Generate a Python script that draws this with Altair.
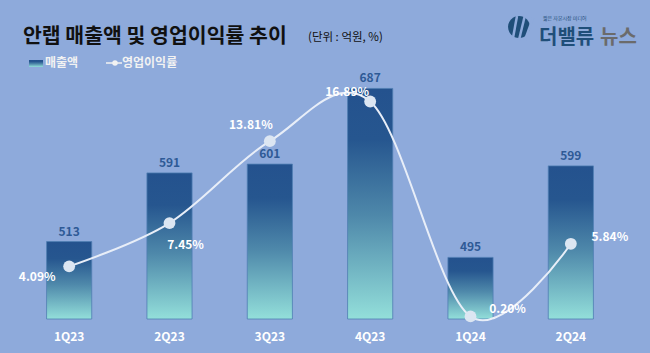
import altair as alt
import pandas as pd

quarters = ["1Q23", "2Q23", "3Q23", "4Q23", "1Q24", "2Q24"]
sales = [513, 591, 601, 687, 495, 599]
margin = [4.09, 7.45, 13.81, 16.89, 0.20, 5.84]

df = pd.DataFrame({"q": quarters, "sales": sales, "margin": margin})
df["sales_label"] = df["sales"].astype(str)
df["margin_label"] = df["margin"].map(lambda v: f"{v:.2f}%")

FONT = "Noto Sans CJK KR"
W, H = 602, 264
LEFT, TOP = 19, 55
BG = "#8EAADB"

bar_grad = alt.Gradient(
    gradient="linear", x1=0, y1=0, x2=0, y2=1,
    stops=[
        alt.GradientStop(offset=0, color="#24528E"),
        alt.GradientStop(offset=0.22, color="#26568F"),
        alt.GradientStop(offset=0.55, color="#4E88AA"),
        alt.GradientStop(offset=1, color="#93DFDA"),
    ],
)

x = alt.X(
    "q:N", sort=quarters,
    scale=alt.Scale(paddingInner=0.55, paddingOuter=0.275),
    axis=alt.Axis(title=None, domain=False, ticks=False, labelAngle=0, grid=False,
                  labelColor="#FFFFFF", labelFont=FONT, labelFontSize=12,
                  labelFontWeight="bold", labelPadding=12),
)
ybar = alt.Y("sales:Q", scale=alt.Scale(domain=[425, 725], zero=False, nice=False), axis=None)
yline = alt.Y("margin:Q", scale=alt.Scale(domain=[0, 20.5], zero=True, nice=False), axis=None)

base = alt.Chart(df)

bars = base.mark_bar(color=bar_grad, stroke="#4F7DB3", strokeWidth=0.8).encode(
    x=x, y=ybar, y2=alt.datum(425)
)
bar_text = base.mark_text(dy=-10, font=FONT, fontSize=12, fontWeight="bold", color="#2E5A96").encode(
    x=x, y=ybar, text="sales_label"
)
line = base.mark_line(interpolate="cardinal", color="#E8EEF8", strokeWidth=2).encode(x=x, y=yline)
points = base.mark_point(filled=True, shape="circle", size=140, color="#DCE6F2", opacity=1).encode(x=x, y=yline)

offsets = {
    "1Q23": (-32, 11),
    "2Q23": (16, 22),
    "3Q23": (-19, -16),
    "4Q23": (-23, -9),
    "1Q24": (37, -7),
    "2Q24": (39, -7),
}
pct_layers = []
for q, (dx, dy) in offsets.items():
    pct_layers.append(
        base.transform_filter(alt.datum.q == q)
        .mark_text(dx=dx, dy=dy, font=FONT, fontSize=12, fontWeight="bold", color="#FFFFFF")
        .encode(x=x, y=yline, text="margin_label")
    )

one = alt.Data(values=[{"a": 1}])


def px(v):
    return alt.value(v - LEFT)


def py(v):
    return alt.value(v - TOP)


title = alt.Chart(one).mark_text(
    text="안랩 매출액 및 영업이익률 추이", font=FONT, fontSize=20.5, fontWeight="bold",
    color="#111111", align="left", baseline="alphabetic"
).encode(x=px(23), y=py(43))
subtitle = alt.Chart(one).mark_text(
    text="(단위 : 억원, %)", font=FONT, fontSize=11.5, color="#111111",
    align="left", baseline="alphabetic"
).encode(x=px(308), y=py(41))

leg_rect = alt.Chart(one).mark_rect(color=bar_grad).encode(
    x=px(29), x2=px(43), y=py(60), y2=py(67)
)
leg_t1 = alt.Chart(one).mark_text(
    text="매출액", font=FONT, fontSize=12, fontWeight="bold", color="#F2F2F2",
    align="left", baseline="middle"
).encode(x=px(45), y=py(63))
leg_rule = alt.Chart(one).mark_rule(color="#F2F2F2", strokeWidth=1.5).encode(
    x=px(106), x2=px(122), y=py(63)
)
leg_pt = alt.Chart(one).mark_point(filled=True, shape="circle", size=30, color="#F2F2F2", opacity=1).encode(
    x=px(115), y=py(63)
)
leg_t2 = alt.Chart(one).mark_text(
    text="영업이익률", font=FONT, fontSize=12, fontWeight="bold", color="#F2F2F2",
    align="left", baseline="middle"
).encode(x=px(122), y=py(63))

logo_circle = alt.Chart(one).mark_point(filled=True, shape="circle", size=480, color="#1F4E79", opacity=1).encode(
    x=px(519), y=py(27)
)
logo_s1 = alt.Chart(one).mark_rule(color=BG, strokeWidth=2.5).encode(
    x=px(513), x2=px(517), y=py(38), y2=py(16)
)
logo_s2 = alt.Chart(one).mark_rule(color=BG, strokeWidth=2.5).encode(
    x=px(519), x2=px(525), y=py(40), y2=py(15)
)
logo_s3 = alt.Chart(one).mark_rule(color=BG, strokeWidth=2.5).encode(
    x=px(525), x2=px(533), y=py(40), y2=py(18)
)
logo_small = alt.Chart(one).mark_text(
    text="짧은 자본시장 미디어", font=FONT, fontSize=5, color="#1F4E79", align="left", baseline="middle"
).encode(x=px(543), y=py(18))
logo_t1 = alt.Chart(one).mark_text(
    text="더밸류", font=FONT, fontSize=20, fontWeight="bold", color="#1F4E79",
    align="left", baseline="alphabetic"
).encode(x=px(539), y=py(44))
logo_t2 = alt.Chart(one).mark_text(
    text="뉴스", font=FONT, fontSize=20, fontWeight="bold", color="#6B6B6B",
    align="left", baseline="alphabetic"
).encode(x=px(600), y=py(44))

chart = alt.layer(
    bars, bar_text, line, points, *pct_layers,
    title, subtitle, leg_rect, leg_t1, leg_rule, leg_pt, leg_t2,
    logo_circle, logo_s1, logo_s2, logo_s3, logo_small, logo_t1, logo_t2,
).resolve_scale(y="independent").properties(
    width=W, height=H,
    background=BG,
    padding={"left": LEFT, "top": TOP, "right": 650 - LEFT - W, "bottom": 353 - TOP - H},
    autosize=alt.AutoSizeParams(type="none"),
).configure_view(stroke=None)

chart.save("out.html", embed_options={"renderer": "svg", "actions": False})
